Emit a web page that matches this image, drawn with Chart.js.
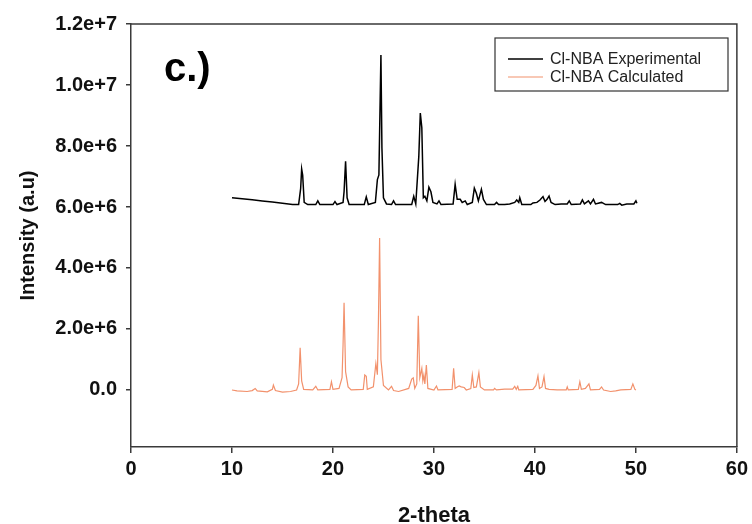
<!DOCTYPE html>
<html>
<head>
<meta charset="utf-8">
<script src="https://cdn.jsdelivr.net/npm/chart.js@4"></script>
<style>
html,body{margin:0;padding:0;background:#fff;}
#wrap{width:752px;height:524px;}
</style>
</head>
<body>
<div id="wrap"><canvas id="c" width="752" height="524"></canvas></div>
<script>
// ---- data ----
const seriesNames = ["Cl-NBA Experimental", "Cl-NBA Calculated"];
const xTicks = [0, 10, 20, 30, 40, 50, 60];
const yTicks = [0, 2e6, 4e6, 6e6, 8e6, 1e7, 1.2e7];

const thetaExp = [10.0,11.0,12.0,13.0,14.0,15.0,16.0,16.6,16.8,16.9,17.0,17.15,17.5,18.3,18.5,18.7,20.0,20.2,20.4,21.0,21.1,21.25,21.4,21.6,23.1,23.3,23.5,24.2,24.4,24.55,24.75,24.85,25.0,25.3,25.8,26.0,26.2,27.8,28.0,28.2,28.5,28.65,28.8,28.95,29.1,29.3,29.5,29.7,29.9,30.3,30.5,30.7,31.9,32.1,32.3,32.6,32.8,33.1,33.3,33.8,34.0,34.2,34.4,34.7,34.9,35.2,36.0,36.2,36.4,37.0,37.5,38.0,38.2,38.4,38.5,38.7,39.6,39.8,40.2,40.5,40.8,41.0,41.2,41.4,41.6,42.0,42.6,43.2,43.4,43.6,44.5,44.7,44.9,45.3,45.5,45.8,46.0,46.6,47.0,48.2,48.4,48.6,49.1,49.8,50.0,50.1];
const intExp = [6.30e6,6.27e6,6.24e6,6.20e6,6.16e6,6.12e6,6.08e6,6.08e6,6.60e6,7.25e6,7.05e6,6.15e6,6.08e6,6.08e6,6.20e6,6.08e6,6.08e6,6.18e6,6.08e6,6.15e6,6.50e6,7.50e6,6.30e6,6.08e6,6.08e6,6.33e6,6.08e6,6.15e6,6.90e6,7.05e6,10.98e6,7.93e6,6.30e6,6.10e6,6.08e6,6.20e6,6.08e6,6.08e6,6.35e6,6.10e6,7.65e6,9.08e6,8.60e6,6.30e6,6.35e6,6.20e6,6.65e6,6.50e6,6.15e6,6.10e6,6.20e6,6.08e6,6.10e6,6.74e6,6.25e6,6.25e6,6.15e6,6.20e6,6.08e6,6.15e6,6.62e6,6.45e6,6.20e6,6.58e6,6.25e6,6.08e6,6.08e6,6.15e6,6.08e6,6.08e6,6.10e6,6.15e6,6.23e6,6.15e6,6.30e6,6.08e6,6.08e6,6.13e6,6.15e6,6.23e6,6.34e6,6.18e6,6.25e6,6.36e6,6.15e6,6.08e6,6.10e6,6.10e6,6.20e6,6.08e6,6.10e6,6.23e6,6.10e6,6.20e6,6.10e6,6.25e6,6.10e6,6.15e6,6.08e6,6.08e6,6.12e6,6.06e6,6.10e6,6.10e6,6.20e6,6.12e6];

const thetaCalc = [10.0,10.5,11.5,12.0,12.3,12.5,13.5,14.0,14.1,14.3,15.0,15.8,16.4,16.6,16.75,16.9,17.1,18.0,18.3,18.5,19.7,19.85,20.0,20.6,20.9,21.0,21.1,21.25,21.5,21.8,23.0,23.15,23.3,23.4,24.0,24.25,24.4,24.5,24.62,24.75,25.0,25.5,25.8,26.0,26.5,27.5,27.8,27.95,28.1,28.3,28.45,28.6,28.8,28.9,29.0,29.1,29.25,29.4,30.0,30.25,30.4,31.8,31.95,32.1,32.3,32.5,32.7,33.0,33.2,33.65,33.8,33.95,34.2,34.45,34.6,35.0,35.9,36.0,36.2,37.0,37.8,38.0,38.15,38.3,38.4,39.8,40.1,40.3,40.45,40.7,40.9,41.05,41.4,42.2,43.1,43.2,43.3,44.3,44.45,44.6,45.0,45.35,45.5,46.4,46.6,46.8,47.5,48.0,48.5,49.5,49.7,49.9,50.0];
const intCalc = [0.00e6,-0.03e6,-0.05e6,-0.02e6,0.05e6,-0.03e6,-0.06e6,0.02e6,0.16e6,-0.02e6,-0.07e6,-0.05e6,0.00e6,0.20e6,1.38e6,0.30e6,0.02e6,0.00e6,0.12e6,0.00e6,0.02e6,0.27e6,0.02e6,0.05e6,0.40e6,1.48e6,2.86e6,0.60e6,0.10e6,0.00e6,0.02e6,0.49e6,0.45e6,0.02e6,0.10e6,0.87e6,0.50e6,2.20e6,4.98e6,1.00e6,0.15e6,0.00e6,0.12e6,-0.02e6,-0.05e6,0.05e6,0.36e6,0.40e6,0.05e6,0.20e6,2.43e6,0.40e6,0.71e6,0.30e6,0.49e6,0.20e6,0.82e6,0.05e6,0.00e6,0.13e6,0.00e6,0.02e6,0.71e6,0.05e6,0.10e6,0.13e6,0.10e6,0.08e6,0.00e6,0.05e6,0.49e6,0.08e6,0.10e6,0.57e6,0.10e6,0.00e6,0.00e6,0.05e6,0.00e6,0.03e6,0.03e6,0.12e6,0.02e6,0.12e6,0.00e6,0.02e6,0.15e6,0.46e6,0.05e6,0.10e6,0.44e6,0.05e6,0.02e6,0.00e6,0.00e6,0.10e6,0.00e6,0.02e6,0.27e6,0.02e6,0.05e6,0.20e6,0.00e6,0.02e6,0.10e6,0.00e6,-0.05e6,-0.03e6,0.00e6,0.02e6,0.20e6,0.02e6,0.00e6];

// ---- chart ----
const FONT = "'Liberation Sans', Arial, sans-serif";
const AXIS_COLOR = '#3a3a3a';
const colors = ['#000000', '#f2916c'];

const toPts = (xs, ys) => xs.map((x, i) => ({x: x, y: ys[i]}));

const framePlugin = {
  id: 'frame',
  afterDraw(chart) {
    const {ctx, chartArea: a} = chart;
    ctx.save();
    ctx.strokeStyle = AXIS_COLOR;
    ctx.lineWidth = 1.5;
    ctx.beginPath();
    ctx.moveTo(a.left, a.top);
    ctx.lineTo(a.right, a.top);
    ctx.lineTo(a.right, a.bottom);
    ctx.stroke();
    // panel label
    ctx.fillStyle = '#000';
    ctx.font = "bold 40px " + FONT;
    ctx.textBaseline = 'alphabetic';
    ctx.textAlign = 'left';
    ctx.fillText('c.)', 164, 81);
    // legend
    const bx = 495, by = 38, bw = 233, bh = 53;
    ctx.lineWidth = 1.2;
    ctx.strokeStyle = '#333';
    ctx.strokeRect(bx, by, bw, bh);
    ctx.font = "16px " + FONT;
    ctx.textBaseline = 'middle';
    chart.data.datasets.forEach((ds, i) => {
      const yy = by + 21 + i * 18;
      ctx.strokeStyle = ds.borderColor;
      ctx.lineWidth = i === 0 ? 1.5 : 1.2;
      ctx.beginPath();
      ctx.moveTo(508, yy);
      ctx.lineTo(543, yy);
      ctx.stroke();
      ctx.fillStyle = '#222';
      ctx.fillText(ds.label, 550, yy + 1);
    });
    ctx.restore();
  }
};

new Chart(document.getElementById('c'), {
  type: 'line',
  data: {
    datasets: [
      {label: seriesNames[0], data: toPts(thetaExp, intExp), borderColor: colors[0], borderWidth: 1.5, pointRadius: 0, tension: 0, fill: false},
      {label: seriesNames[1], data: toPts(thetaCalc, intCalc), borderColor: colors[1], borderWidth: 1.2, pointRadius: 0, tension: 0, fill: false}
    ]
  },
  options: {
    responsive: false,
    animation: false,
    layout: {padding: {top: 24, right: 14, left: 0, bottom: 0}},
    plugins: {legend: {display: false}, tooltip: {enabled: false}},
    scales: {
      x: {
        type: 'linear', min: 0, max: 60,
        afterBuildTicks: s => { s.ticks = xTicks.map(v => ({value: v})); },
        afterFit: s => { s.height = 77; },
        grid: {drawOnChartArea: false, drawTicks: true, tickLength: 6, color: AXIS_COLOR, lineWidth: 1.5},
        border: {display: true, color: AXIS_COLOR, width: 1.5},
        ticks: {color: '#111', font: {family: FONT, size: 20, weight: 'bold'}, padding: 4, maxRotation: 0,
                callback: v => String(v)},
        title: {display: true, text: '2-theta', color: '#111', font: {family: FONT, size: 22, weight: 'bold', lineHeight: 0.75}, padding: {top: 0, bottom: 0}}
      },
      y: {
        type: 'linear', min: -1.87e6, max: 1.2e7,
        afterBuildTicks: s => { s.ticks = yTicks.map(v => ({value: v})); },
        afterFit: s => { s.width = 131; },
        grid: {drawOnChartArea: false, drawTicks: true, tickLength: 5, color: AXIS_COLOR, lineWidth: 1.5},
        border: {display: true, color: AXIS_COLOR, width: 1.5},
        ticks: {color: '#111', font: {family: FONT, size: 20, weight: 'bold'}, padding: 9,
                callback: v => v === 0 ? '0.0' : v.toExponential(1)},
        title: {display: true, text: 'Intensity (a.u)', color: '#111', font: {family: FONT, size: 20, weight: 'bold', lineHeight: 1.2}, padding: {top: 16, bottom: 0}}
      }
    }
  },
  plugins: [framePlugin]
});
</script>
</body>
</html>
